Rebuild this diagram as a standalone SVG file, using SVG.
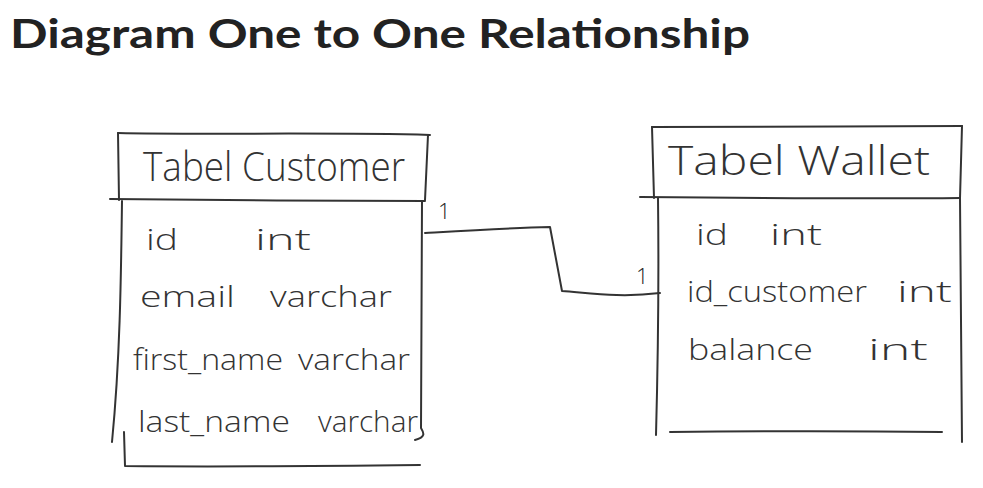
<svg xmlns="http://www.w3.org/2000/svg" width="983" height="488" viewBox="0 0 983 488">
<style>
.ln{fill:none;stroke:#333;stroke-width:2;stroke-linecap:round;stroke-linejoin:round}
.hw{font-family:"Open Sans","DejaVu Sans",sans-serif;fill:#333;font-weight:300}
.hd{font-size:40px}
.rw{font-size:30px}
.one{font-size:22px;fill:#222}
.title{font-family:"Lato","Open Sans",sans-serif;font-weight:700;font-size:40px;fill:#222}
</style>
<rect width="983" height="488" fill="#fff"/>
<text class="title" x="10" y="48" textLength="740" lengthAdjust="spacingAndGlyphs">Diagram One to One Relationship</text>

<g id="customer">
<path class="ln" d="M118,133 C200,135 330,132 430,135"/>
<path class="ln" d="M118,133 L119,200"/>
<path class="ln" d="M428,135 L425,200"/>
<path class="ln" d="M110,199 C200,200 330,201 425,201"/>
<path class="ln" d="M122,201 C121,280 120,360 112,442"/>
<path class="ln" d="M422,201 C421,290 421,370 421,428 C424,433 426,437 415,440"/>
<path class="ln" d="M124,432 L125,466 C220,467 330,466 420,465"/>
<text class="hw hd" x="143" y="181" textLength="262" lengthAdjust="spacingAndGlyphs">Tabel Customer</text>
<text class="hw rw" x="146" y="250" textLength="32" lengthAdjust="spacingAndGlyphs">id</text>
<text class="hw rw" x="255" y="250" textLength="56" lengthAdjust="spacingAndGlyphs">int</text>
<text class="hw rw" x="140" y="307" textLength="95" lengthAdjust="spacingAndGlyphs">email</text>
<text class="hw rw" x="270" y="307" textLength="122" lengthAdjust="spacingAndGlyphs">varchar</text>
<text class="hw rw" x="133" y="370" textLength="150" lengthAdjust="spacingAndGlyphs">first_name</text>
<text class="hw rw" x="298" y="370" textLength="112" lengthAdjust="spacingAndGlyphs">varchar</text>
<text class="hw rw" x="138" y="432" textLength="152" lengthAdjust="spacingAndGlyphs">last_name</text>
<text class="hw rw" x="318" y="432" textLength="100" lengthAdjust="spacingAndGlyphs">varchar</text>
</g>

<g id="wallet">
<path class="ln" d="M652,127 C750,126 860,127 962,126"/>
<path class="ln" d="M652,127 L654,198"/>
<path class="ln" d="M962,126 L960,198"/>
<path class="ln" d="M640,197 C750,198 860,199 960,198"/>
<path class="ln" d="M658,198 C659,280 658,360 656,435"/>
<path class="ln" d="M960,198 C961,290 962,370 962,442"/>
<path class="ln" d="M670,432 C760,431 860,431 942,432"/>
<text class="hw hd" x="668" y="175" textLength="262" lengthAdjust="spacingAndGlyphs">Tabel Wallet</text>
<text class="hw rw" x="696" y="245" textLength="32" lengthAdjust="spacingAndGlyphs">id</text>
<text class="hw rw" x="770" y="245" textLength="52" lengthAdjust="spacingAndGlyphs">int</text>
<text class="hw rw" x="687" y="302" textLength="180" lengthAdjust="spacingAndGlyphs">id_customer</text>
<text class="hw rw" x="897" y="302" textLength="55" lengthAdjust="spacingAndGlyphs">int</text>
<text class="hw rw" x="688" y="360" textLength="125" lengthAdjust="spacingAndGlyphs">balance</text>
<text class="hw rw" x="868" y="360" textLength="60" lengthAdjust="spacingAndGlyphs">int</text>
</g>

<g id="connectors">
<path class="ln" d="M425,233 C460,231 510,228 550,227 L562,291 C590,293 620,298 660,293"/>
<text class="hw one" x="438" y="219">1</text>
<text class="hw one" x="636" y="284">1</text>
</g>
</svg>
